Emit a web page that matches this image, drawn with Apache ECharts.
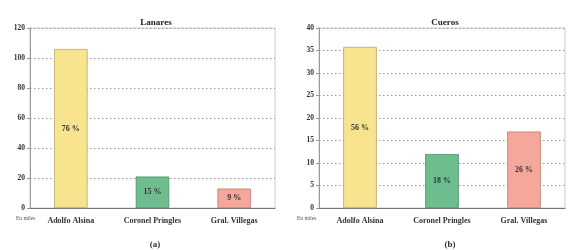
<!DOCTYPE html>
<html><head><meta charset="utf-8">
<script src="https://cdn.jsdelivr.net/npm/echarts@6/dist/echarts.min.js"></script>
<style>html,body{margin:0;padding:0;background:#fff}#c{width:576px;height:250px}</style>
</head><body><div id="c"></div>
<script>
const categories = ['Adolfo Alsina', 'Coronel Pringles', 'Gral. Villegas'];
const lanaresValues = [106, 21, 13];
const lanaresPct = ['76 %', '15 %', '9 %'];
const cuerosValues = [35.8, 12, 17];
const cuerosPct = ['56 %', '18 %', '26 %'];
const barColors = ['#F8E48F', '#6DBE8F', '#F4A79A'];
const barBorders = ['#B8A860', '#4E8C68', '#C07E72'];
const titles = ['Lanares', 'Cueros'];
const captions = ['(a)', '(b)'];
const unitLabel = 'En miles';

const F = 'Liberation Serif, Times New Roman, serif';
const chart = echarts.init(document.getElementById('c'), null, {renderer: 'canvas'});

function mkData(vals, pct) {
  return vals.map((v, i) => ({
    value: v,
    itemStyle: {color: barColors[i], borderColor: barBorders[i], borderWidth: 0.8},
    label: {formatter: pct[i]}
  }));
}

const grids = [
  {left: 30, right: 301, top: 28, bottom: 42},
  {left: 319, right: 11, top: 28, bottom: 42}
];

const yAxisBase = (idx, max, interval) => ({
  type: 'value', gridIndex: idx, min: 0, max: max, interval: interval,
  axisLine: {show: true, lineStyle: {color: '#999', width: 1}},
  axisTick: {show: true, length: 3, lineStyle: {color: '#999'}},
  axisLabel: {fontFamily: F, fontWeight: 'bold', fontSize: 7.5, color: '#333', margin: 5},
  splitLine: {show: true, lineStyle: {type: [1.5, 2.5], color: '#999', width: 1}}
});

const xAxisBase = (idx) => ({
  type: 'category', gridIndex: idx, data: categories,
  axisLine: {show: true, lineStyle: {color: '#777', width: 1}},
  axisTick: {show: false},
  axisLabel: {fontFamily: F, fontWeight: 'bold', fontSize: 8, color: '#333', margin: 9}
});

const seriesLabel = {show: true, position: 'inside', fontFamily: F, fontWeight: 'bold', fontSize: 8, color: '#333'};

chart.setOption({
  animation: false,
  backgroundColor: '#fff',
  title: [
    {text: titles[0], left: 151, top: 13, textAlign: 'center', textStyle: {fontFamily: F, fontWeight: 'bold', fontSize: 9, color: '#222'}},
    {text: titles[1], left: 440, top: 13, textAlign: 'center', textStyle: {fontFamily: F, fontWeight: 'bold', fontSize: 9, color: '#222'}},
    {text: captions[0], left: 150, top: 235, textAlign: 'center', textStyle: {fontFamily: F, fontWeight: 'bold', fontSize: 9, color: '#333'}},
    {text: captions[1], left: 445, top: 235, textAlign: 'center', textStyle: {fontFamily: F, fontWeight: 'bold', fontSize: 9, color: '#333'}},
    {text: unitLabel, left: 11, top: 211, textStyle: {fontFamily: F, fontWeight: 'normal', fontSize: 5.5, color: '#555'}},
    {text: unitLabel, left: 292, top: 211, textStyle: {fontFamily: F, fontWeight: 'normal', fontSize: 5.5, color: '#555'}}
  ],
  grid: grids.map(g => Object.assign({show: true, borderColor: '#ccc', borderWidth: 1, backgroundColor: 'transparent'}, g)),
  xAxis: [xAxisBase(0), xAxisBase(1)],
  yAxis: [yAxisBase(0, 120, 20), yAxisBase(1, 40, 5)],
  series: [
    {type: 'bar', xAxisIndex: 0, yAxisIndex: 0, barWidth: '41%', data: mkData(lanaresValues, lanaresPct), label: seriesLabel},
    {type: 'bar', xAxisIndex: 1, yAxisIndex: 1, barWidth: '41%', data: mkData(cuerosValues, cuerosPct), label: seriesLabel}
  ]
});
</script></body></html>
